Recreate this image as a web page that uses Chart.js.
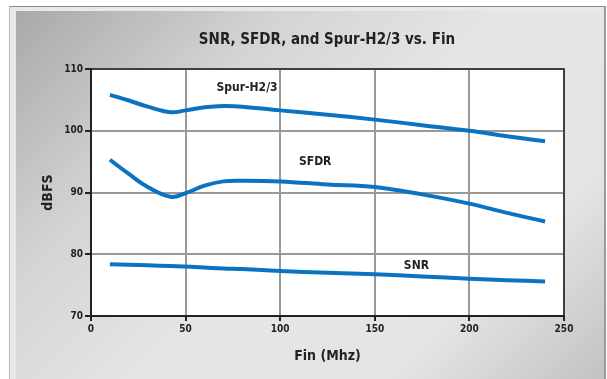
<!DOCTYPE html>
<html lang="en">
<head>
    <meta charset="UTF-8" />
    <title>SNR, SFDR, and Spur-H2/3 vs. Fin</title>
    <script src="https://cdn.jsdelivr.net/npm/chart.js"></script>
    <style>
        body { margin: 0; background: #fff; }
        #wrap { position: relative; width: 607px; height: 379px; overflow: hidden; }
        #frame {
            position: absolute; left: 9px; top: 6px; right: 1px; bottom: -2px;
            background: #e9e9e9;
            border-top: 1px solid #8a8a8a; border-left: 1px solid #bcbcbc; border-right: 2px solid #9a9a9a;
        }
        #panel {
            position: absolute; left: 16px; top: 11px; right: 3px; bottom: 0;
            background: linear-gradient(135deg, #a9a9a9 0%, #d4d4d4 28%, #e6e6e6 52%, #e4e4e4 78%, #c2c2c2 100%);
        }
        canvas { position: absolute; left: 0; top: 0; }
    </style>
</head>
<body>
<div id="wrap">
    <div id="frame"></div>
    <div id="panel"></div>
    <canvas id="chart" width="607" height="379"></canvas>
</div>

<script>
    // values
    const fin  = [10, 20, 30, 42, 50, 60, 70, 80, 100, 125, 150, 175, 200, 220, 240];
    const spur = [105.8, 104.9, 103.9, 103.0, 103.3, 103.8, 104.0, 103.9, 103.3, 102.6, 101.8, 100.9, 100.0, 99.1, 98.3];
    const sfdr = [95.3, 93.0, 90.9, 89.3, 89.9, 91.1, 91.8, 91.9, 91.8, 91.3, 90.9, 89.7, 88.2, 86.7, 85.3];
    const snr  = [78.4, 78.3, 78.2, 78.1, 78.0, 77.85, 77.7, 77.6, 77.3, 77.0, 76.75, 76.4, 76.05, 75.8, 75.6];

    const title = 'SNR, SFDR, and Spur-H2/3 vs. Fin';
    const labelText = ['Spur-H2/3', 'SFDR', 'SNR'];
    const labelX = [82.5, 118.5, 172];
    const labelY = [106.9, 95.0, 78.1];

    const FONT = '"DejaVu Sans Condensed", "Liberation Sans", Arial, sans-serif';
    const BLUE = '#0b74c2';

    const pts = ys => fin.map((x, i) => ({ x: x, y: ys[i] }));

    const plotBg = {
        id: 'plotBg',
        beforeDraw(chart) {
            const { ctx, chartArea: a } = chart;
            ctx.save();
            ctx.fillStyle = '#fff';
            ctx.fillRect(a.left, a.top, a.right - a.left, a.bottom - a.top);
            ctx.restore();
        },
        afterDraw(chart) {
            const { ctx, chartArea: a, scales } = chart;
            ctx.save();
            // dark frame top & right
            ctx.strokeStyle = '#222';
            ctx.lineWidth = 1.5;
            ctx.beginPath();
            ctx.moveTo(a.left, a.top);
            ctx.lineTo(a.right, a.top);
            ctx.lineTo(a.right, a.bottom);
            ctx.stroke();
            ctx.fillStyle = '#222';
            ctx.textAlign = 'center';
            ctx.textBaseline = 'middle';
            // title, centred like the original (not over the plot)
            ctx.font = 'bold 15px ' + FONT;
            ctx.fillText(title, 327, 40);
            // series labels
            ctx.font = 'bold 12px ' + FONT;
            labelText.forEach((t, i) => {
                ctx.fillText(t, scales.x.getPixelForValue(labelX[i]), scales.y.getPixelForValue(labelY[i]));
            });
            ctx.restore();
        }
    };

    const line = ys => ({
        data: pts(ys),
        borderColor: BLUE,
        borderWidth: 4,
        pointRadius: 0,
        fill: false,
        tension: 0.4
    });

    new Chart(document.getElementById('chart'), {
        type: 'line',
        data: { datasets: [line(spur), line(sfdr), line(snr)] },
        options: {
            responsive: false,
            animation: false,
            devicePixelRatio: 1,
            layout: { padding: { left: 30, top: 69, right: 43, bottom: 0 } },
            plugins: {
                legend: { display: false },
                tooltip: { enabled: false },
                title: { display: false }
            },
            scales: {
                x: {
                    type: 'linear',
                    min: 0, max: 250,
                    ticks: { stepSize: 50, color: '#222', padding: 2, font: { family: FONT, size: 10, weight: 'bold' } },
                    grid: { color: '#999', lineWidth: 2, tickColor: '#222', tickLength: 5, tickWidth: 2 },
                    border: { color: '#222', width: 2 },
                    title: {
                        display: true, text: 'Fin (Mhz)', color: '#222',
                        font: { family: FONT, size: 14, weight: 'bold' },
                        padding: { top: 0, bottom: 14 }
                    },
                    afterFit(s) { s.height = 63; }
                },
                y: {
                    min: 70, max: 110,
                    ticks: { stepSize: 10, color: '#222', padding: 2, font: { family: FONT, size: 10, weight: 'bold' } },
                    grid: { color: '#999', lineWidth: 2, tickColor: '#222', tickLength: 6, tickWidth: 2 },
                    border: { color: '#222', width: 2 },
                    title: {
                        display: true, text: 'dBFS', color: '#222',
                        font: { family: FONT, size: 14, weight: 'bold' },
                        padding: { top: 10, bottom: 0 }
                    },
                    afterFit(s) { s.width = 61; }
                }
            }
        },
        plugins: [plotBg]
    });
</script>
</body>
</html>
